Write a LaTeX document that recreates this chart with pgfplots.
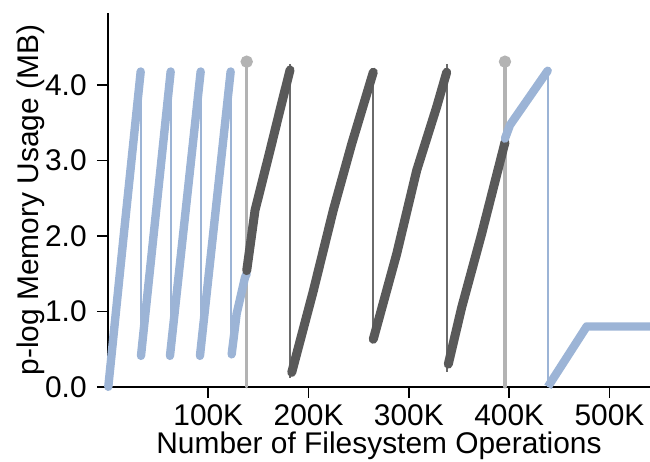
\documentclass[border=0pt]{standalone}
\usepackage{fontspec}
\setmainfont{Liberation Sans}
\usepackage{pgfplots}
\pgfplotsset{compat=1.18}
\definecolor{lblue}{HTML}{9CB4D6}
\definecolor{dgray}{HTML}{595959}
\definecolor{lgray}{HTML}{B3B3B3}
\begin{document}
\fontsize{15}{18}\selectfont
\begin{tikzpicture}
\begin{axis}[
  scale only axis, width=271bp, height=186.7bp,
  xmin=0, xmax=540.4, ymin=0, ymax=4.95,
  axis x line*=bottom, axis y line*=left,
  axis line style={-, line width=0.8bp},
  tick align=outside, major tick length=5.5bp,
  tick style={line width=0.8bp, black},
  xtick={100,200,300,400,500}, xticklabels={100K,200K,300K,400K,500K},
  ytick={0,1,2,3,4},
  yticklabel={\pgfmathprintnumber[fixed,fixed zerofill,precision=1]{\tick}},
  /pgf/number format/assume math mode=true,
  xlabel={Number of Filesystem Operations},
  ylabel={p-log Memory Usage (MB)},
  ticklabel style={font=\fontsize{15}{18}\selectfont},
  xticklabel style={inner ysep=0pt, yshift=-3bp},
  label style={font=\fontsize{15}{18}\selectfont},
  xlabel style={inner sep=0pt, yshift=-3bp},
  ylabel style={yshift=-10bp},
  clip=false,
  thickb/.style={lblue, line width=4.2bp, line cap=round, line join=round},
  thinb/.style={lblue, line width=1bp},
  thickd/.style={dgray, line width=4.5bp, line cap=round, line join=round},
  thind/.style={dgray!90, line width=1bp},
  grayv/.style={lgray, line width=1.7bp, line cap=round, mark=*, mark indices={2}, mark size=2.2bp, mark options={lgray}},
]
% checkpoint markers
\addplot[grayv] coordinates {(138.3,0) (138.3,4.31)};
\addplot[grayv] coordinates {(395.8,0) (395.8,4.31)};
% blue thin drops
\addplot[thinb] coordinates {(32.7,4.18) (32.7,0.41)};
\addplot[thinb] coordinates {(62.5,4.18) (62.5,0.41)};
\addplot[thinb] coordinates {(92.4,4.18) (92.4,0.41)};
\addplot[thinb] coordinates {(122.3,4.18) (122.3,0.43)};
\addplot[thinb] coordinates {(438.4,4.19) (438.4,0)};
% dark thin drops
\addplot[thind] coordinates {(181.5,4.28) (181.5,0.12)};
\addplot[thind] coordinates {(264.5,4.19) (264.5,0.63)};
\addplot[thind] coordinates {(337.7,4.28) (337.7,0.2)};
% blue ramps
\addplot[thickb] coordinates {(0.3,0) (16.0,2.05) (32.6,4.18)};
\addplot[thickb] coordinates {(32.9,0.41) (62.5,4.18)};
\addplot[thickb] coordinates {(61.8,0.41) (92.4,4.18)};
\addplot[thickb] coordinates {(91.7,0.41) (122.3,4.18)};
\addplot[thickb] coordinates {(123.3,0.43) (128.3,0.97) (136.6,1.45) (138.3,1.50)};
% dark ramps
\addplot[thickd] coordinates {(138.3,1.54) (146.6,2.34) (161.5,3.13) (171.5,3.67) (181.5,4.20)};
\addplot[thickd] coordinates {(183.2,0.19) (204.7,1.27) (224.6,2.34) (243.0,3.22) (264.5,4.17)};
\addplot[thickd] coordinates {(264.5,0.63) (287.8,1.76) (307.8,2.87) (327.7,3.71) (337.7,4.17)};
\addplot[thickd] coordinates {(339.3,0.30) (352.6,1.05) (372.6,2.03) (395.8,3.24)};
% blue tail
\addplot[thickb] coordinates {(395.8,3.29) (400.8,3.47) (438.4,4.19)};
\addplot[thickb, line cap=butt] coordinates {(438.6,0) (477.3,0.80) (540.4,0.80)};
\end{axis}
\pgfresetboundingbox
\useasboundingbox ([xshift=-54bp,yshift=-37.2bp]current axis.south west) rectangle ([yshift=6.7bp]current axis.north east);
\end{tikzpicture}
\end{document}
